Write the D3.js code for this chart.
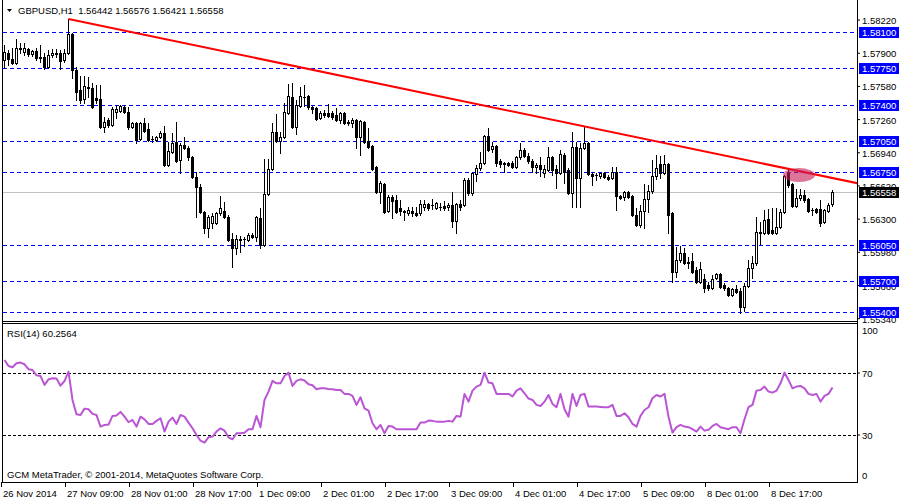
<!DOCTYPE html>
<html><head><meta charset="utf-8">
<script src="https://cdn.jsdelivr.net/npm/d3@7"></script>
<style>
body{margin:0;background:#fff}
svg{display:block}
text{font-family:"Liberation Sans",Arial,sans-serif;font-size:9.5px;fill:#000}
</style>
</head><body>
<svg id="c" width="900" height="500"></svg>
<script>
// ---------- DATA ----------
const headerText = "GBPUSD,H1  1.56442 1.56576 1.56421 1.56558";
const rsiTitle = "RSI(14) 60.2564";
const footerText = "GCM MetaTrader, \u00A9 2001-2014, MetaQuotes Software Corp.";

const open = [
1.5783,1.5790,1.5784,1.5780,1.5795,1.5791,1.5794,1.5789,1.5792,1.5786,1.5786,1.5776,1.5788,1.5790,1.5790,1.5783,
1.5790,1.5808,1.5773,1.5754,1.5745,1.5756,1.5756,1.5746,1.5745,1.5718,1.5725,1.5720,1.5733,1.5734,1.5738,1.5733,
1.5718,1.5722,1.5707,1.5722,1.5716,1.5707,1.5706,1.5709,1.5713,1.5682,1.5694,1.5704,1.5687,1.5701,1.5698,1.5689,
1.5670,1.5661,1.5636,1.5621,1.5626,1.5626,1.5635,1.5637,1.5632,1.5610,1.5602,1.5610,1.5610,1.5609,1.5614,1.5612,
1.5631,1.5605,1.5654,1.5678,1.5714,1.5705,1.5709,1.5732,1.5747,1.5718,1.5739,1.5747,1.5748,1.5738,1.5737,1.5727,
1.5732,1.5732,1.5732,1.5730,1.5725,1.5732,1.5723,1.5722,1.5725,1.5709,1.5723,1.5705,1.5700,1.5680,1.5656,1.5663,
1.5637,1.5651,1.5648,1.5640,1.5637,1.5635,1.5637,1.5635,1.5635,1.5641,1.5644,1.5643,1.5640,1.5641,1.5642,1.5641,
1.5643,1.5628,1.5644,1.5643,1.5667,1.5655,1.5673,1.5679,1.5684,1.5710,1.5697,1.5700,1.5686,1.5684,1.5684,1.5684,
1.5680,1.5689,1.5696,1.5690,1.5686,1.5680,1.5682,1.5674,1.5677,1.5689,1.5678,1.5674,1.5691,1.5677,1.5655,1.5699,
1.5669,1.5698,1.5703,1.5673,1.5672,1.5671,1.5674,1.5670,1.5669,1.5675,1.5652,1.5651,1.5656,1.5652,1.5634,1.5624,
1.5637,1.5649,1.5657,1.5671,1.5683,1.5674,1.5683,1.5635,1.5579,1.5590,1.5597,1.5588,1.5589,1.5580,1.5569,1.5572,
1.5566,1.5563,1.5573,1.5577,1.5566,1.5563,1.5556,1.5562,1.5560,1.5545,1.5565,1.5582,1.5587,1.5617,1.5616,1.5630,
1.5619,1.5616,1.5622,1.5636,1.5674,1.5663,1.5642,1.5650,1.5653,1.5649,1.5638,1.5639,1.5639,1.5627,1.5637,1.56442];

const high = [
1.5797,1.5793,1.5795,1.5803,1.5799,1.5799,1.5795,1.5793,1.5795,1.5797,1.5790,1.5793,1.5794,1.5794,1.5793,1.5794,
1.58225,1.5809,1.5776,1.5768,1.5768,1.5767,1.5761,1.5759,1.5759,1.5728,1.5727,1.5738,1.5740,1.5740,1.5740,1.5738,
1.5723,1.5723,1.5723,1.5727,1.5722,1.5710,1.5710,1.5715,1.5719,1.5704,1.5713,1.5723,1.5703,1.5709,1.5700,1.5690,
1.5675,1.5663,1.5637,1.5634,1.5635,1.5636,1.5652,1.5646,1.5634,1.5616,1.5614,1.5613,1.5612,1.5616,1.5616,1.5633,
1.5640,1.5688,1.5688,1.5722,1.5731,1.5714,1.5742,1.5760,1.5761,1.5744,1.5757,1.5759,1.5749,1.5739,1.5738,1.5734,
1.5735,1.5741,1.5734,1.5737,1.5733,1.5733,1.5725,1.5727,1.5726,1.5725,1.5724,1.5717,1.5701,1.5681,1.5666,1.5664,
1.5653,1.5653,1.5653,1.5648,1.5638,1.5641,1.5641,1.5641,1.5648,1.5648,1.5645,1.5649,1.5646,1.5645,1.5647,1.5645,
1.5656,1.5645,1.5648,1.5669,1.5669,1.5675,1.5682,1.5694,1.5711,1.5717,1.5704,1.5701,1.5688,1.5685,1.5685,1.5686,
1.5690,1.5703,1.5698,1.5693,1.5688,1.5684,1.5689,1.5682,1.5699,1.5690,1.5682,1.5696,1.5693,1.5679,1.5714,1.5704,
1.5703,1.5719,1.5704,1.5675,1.5674,1.5675,1.5675,1.5672,1.5680,1.5680,1.5653,1.5657,1.5657,1.5653,1.5640,1.5643,
1.5663,1.5662,1.5687,1.5691,1.5690,1.5691,1.5684,1.5636,1.5603,1.5604,1.5602,1.5593,1.5597,1.5583,1.5588,1.5577,
1.5569,1.5576,1.5578,1.5578,1.5568,1.5564,1.5563,1.5566,1.5563,1.5568,1.5590,1.5594,1.5632,1.5627,1.5638,1.5639,
1.5640,1.5640,1.5639,1.5672,1.5678,1.5664,1.5659,1.5659,1.5658,1.5650,1.5640,1.5640,1.5648,1.5639,1.5645,1.56576];

const low = [
1.5775,1.5778,1.5779,1.5779,1.5790,1.5788,1.5787,1.5787,1.5783,1.5781,1.5774,1.5775,1.5786,1.5786,1.5774,1.5781,
1.5789,1.5766,1.5744,1.5742,1.5742,1.5747,1.5737,1.5742,1.5717,1.5714,1.5718,1.5719,1.5727,1.5733,1.5732,1.5716,
1.5717,1.5703,1.5706,1.5714,1.5705,1.5704,1.5705,1.5708,1.5681,1.5681,1.5693,1.5685,1.5674,1.5697,1.5687,1.5669,
1.5632,1.5635,1.5616,1.5612,1.5621,1.5625,1.5634,1.5631,1.5608,1.5583,1.5596,1.5598,1.5604,1.5608,1.5611,1.5608,
1.5602,1.5604,1.5653,1.5677,1.5704,1.5693,1.5708,1.5731,1.5717,1.5712,1.5738,1.5739,1.5736,1.5732,1.5725,1.5726,
1.5728,1.5728,1.5726,1.5724,1.5722,1.5721,1.5720,1.5718,1.5698,1.5691,1.5703,1.5698,1.5677,1.5655,1.5645,1.5635,
1.5636,1.5631,1.5635,1.5634,1.5629,1.5634,1.5633,1.5633,1.5634,1.5638,1.5638,1.5639,1.5639,1.5638,1.5638,1.5638,
1.5622,1.5616,1.5638,1.5642,1.5653,1.5653,1.5666,1.5677,1.5683,1.5695,1.5694,1.5681,1.5680,1.5675,1.5681,1.5679,
1.5679,1.5688,1.5689,1.5684,1.5675,1.5674,1.5671,1.5670,1.5676,1.5672,1.5660,1.5673,1.5664,1.5654,1.5641,1.5641,
1.5641,1.5697,1.5672,1.5662,1.5667,1.5669,1.5669,1.5667,1.5668,1.5638,1.5649,1.5648,1.5650,1.5633,1.5623,1.5622,
1.5621,1.5636,1.5655,1.5668,1.5669,1.5673,1.5616,1.5569,1.5574,1.5588,1.5586,1.5582,1.5578,1.5568,1.5568,1.5559,
1.5561,1.5562,1.5572,1.5563,1.5561,1.5555,1.5555,1.5558,1.5539,1.5541,1.5564,1.5573,1.5585,1.5606,1.5615,1.5615,
1.5615,1.5615,1.5621,1.5635,1.5661,1.5641,1.5641,1.5648,1.5646,1.5636,1.5634,1.5635,1.5623,1.5626,1.5636,1.56421];

const close = [
1.5791,1.5784,1.5780,1.5795,1.5794,1.5795,1.5789,1.5792,1.5785,1.5785,1.5776,1.5788,1.5790,1.5789,1.5782,1.5790,
1.5808,1.5773,1.5752,1.5744,1.5758,1.5757,1.5738,1.5744,1.5718,1.5723,1.5720,1.5736,1.5736,1.5739,1.5733,1.5718,
1.5722,1.5706,1.5722,1.5715,1.5706,1.5707,1.5709,1.5713,1.5682,1.5695,1.5703,1.5686,1.5701,1.5698,1.5689,1.5670,
1.5661,1.5636,1.5621,1.5632,1.5633,1.5635,1.5640,1.5632,1.5609,1.5602,1.5610,1.5609,1.5610,1.5614,1.5612,1.5632,
1.5605,1.5654,1.5678,1.5714,1.5705,1.5709,1.5733,1.5748,1.5718,1.5740,1.5748,1.5747,1.5738,1.5736,1.5726,1.5732,
1.5730,1.5729,1.5728,1.5725,1.5732,1.5722,1.5722,1.5725,1.5709,1.5724,1.5704,1.5699,1.5678,1.5656,1.5664,1.5636,
1.5651,1.5647,1.5636,1.5637,1.5636,1.5638,1.5635,1.5634,1.5644,1.5644,1.5640,1.5643,1.5645,1.5641,1.5640,1.5643,
1.5628,1.5644,1.5641,1.5667,1.5655,1.5674,1.5679,1.5684,1.5710,1.5696,1.5700,1.5684,1.5683,1.5683,1.5682,1.5680,
1.5689,1.5696,1.5690,1.5686,1.5680,1.5682,1.5678,1.5678,1.5689,1.5677,1.5674,1.5692,1.5675,1.5655,1.5699,1.5669,
1.5698,1.5703,1.5673,1.5671,1.5672,1.5674,1.5670,1.5668,1.5675,1.5652,1.5650,1.5656,1.5651,1.5634,1.5624,1.5637,
1.5649,1.5657,1.5671,1.5679,1.5674,1.5683,1.5634,1.5579,1.5590,1.5597,1.5587,1.5587,1.5579,1.5569,1.5581,1.5563,
1.5563,1.5572,1.5577,1.5564,1.5563,1.5556,1.5562,1.5559,1.5545,1.5565,1.5582,1.5587,1.5617,1.5616,1.5629,1.5616,
1.5616,1.5622,1.5636,1.5671,1.5662,1.5642,1.5650,1.5653,1.5648,1.5637,1.5638,1.5636,1.5626,1.5638,1.5643,1.56558];

const rsi = [
78.1,74.2,73.4,76.0,76.4,75.3,72.1,71.6,68.2,67.8,62.0,65.6,66.3,66.1,61.5,64.5,
70.6,52.3,43.1,42.6,46.7,46.3,43.3,42.6,35.1,36.2,36.4,42.0,42.2,44.6,41.5,37.9,
39.4,35.1,41.5,39.8,36.8,36.8,38.8,40.5,31.9,38.3,40.9,36.8,42.6,41.5,37.7,34.0,
29.7,26.0,24.8,28.2,28.7,31.9,34.0,32.5,28.2,26.9,30.8,30.8,31.2,33.4,33.4,42.0,
34.7,52.3,57.7,64.6,63.0,63.0,67.8,69.9,61.3,64.6,65.6,64.8,62.4,61.8,59.2,59.8,
59.8,59.4,59.2,58.7,58.7,56.2,56.2,54.9,49.1,54.0,46.9,45.4,37.3,33.4,36.2,30.8,
35.5,35.1,33.4,33.4,33.4,33.4,33.4,33.4,37.7,37.7,39.0,38.8,38.3,38.3,38.3,38.8,
38.3,42.0,41.5,56.2,51.2,58.3,60.9,62.0,69.9,63.5,63.0,56.2,56.2,56.2,56.2,54.5,
58.3,59.8,56.6,53.2,52.3,49.1,48.4,51.2,55.5,49.7,47.6,56.2,46.3,41.5,56.2,48.4,
55.5,56.2,48.0,48.0,48.0,47.8,47.6,47.6,49.1,42.0,42.0,43.7,41.1,36.8,35.1,42.0,
45.8,47.6,53.4,55.5,54.5,56.2,41.5,31.2,34.7,36.2,35.1,34.7,33.4,31.9,35.1,32.5,
33.0,35.5,36.8,34.7,34.0,33.4,34.7,34.7,30.8,39.8,47.6,49.1,58.3,58.7,60.9,57.7,
57.0,58.3,63.0,69.9,65.2,59.8,60.9,61.3,59.8,56.2,55.5,56.2,51.2,54.9,56.2,60.3];

const priceTicks = [1.58220,1.57900,1.57580,1.57260,1.56940,1.56620,1.56300,1.55980,1.55660,1.55340];
const levels = [1.58100,1.57750,1.57400,1.57050,1.56750,1.56050,1.55700,1.55400];
const currentPrice = 1.56558;
const rsiTicks = [100,70,30,0];
const rsiLevels = [70,30];
const timeLabels = ["26 Nov 2014","27 Nov 09:00","28 Nov 01:00","28 Nov 17:00","1 Dec 09:00","2 Dec 01:00","2 Dec 17:00","3 Dec 09:00","4 Dec 01:00","4 Dec 17:00","5 Dec 09:00","8 Dec 01:00","8 Dec 17:00"];
const timeLabelBars = [0,16,32,48,64,80,96,112,128,144,160,176,192];
const trendAnchors = [[16,1.58225],[145,1.5719]];
const highlight = {bar:198.75, price:1.5672};

// ---------- LAYOUT ----------
const svg = d3.select("#c");
const PL = 2.5, PR = 857.5;
const MAIN_BOT = 321, RSI_TOP = 323, RSI_BOT = 482;
const n = open.length;
const x = d3.scaleLinear().domain([0, n-1]).range([4, 4 + 4*(n-1)]);
const y = d3.scaleLinear().domain([1.55313, 1.58370]).range([321, 4]);
const yr = d3.scaleLinear().domain([0,100]).range([481, 326]);

const defs = svg.append("defs");
defs.append("clipPath").attr("id","mainClip").append("rect").attr("x",3).attr("y",0).attr("width",854).attr("height",MAIN_BOT);
defs.append("clipPath").attr("id","rsiClip").append("rect").attr("x",3).attr("y",RSI_TOP+1).attr("width",854).attr("height",RSI_BOT-RSI_TOP-1);

const main = svg.append("g").attr("clip-path","url(#mainClip)");

// current price line
main.append("line").attr("x1",3).attr("x2",857).attr("y1",Math.round(y(currentPrice))+0.5).attr("y2",Math.round(y(currentPrice))+0.5)
  .attr("stroke","#c0c0c0").attr("stroke-width",1);

// level lines
main.selectAll("line.lvl").data(levels).join("line").attr("class","lvl")
  .attr("x1",3).attr("x2",857)
  .attr("y1",d=>Math.round(y(d))+0.5).attr("y2",d=>Math.round(y(d))+0.5)
  .attr("stroke","#0000ff").attr("stroke-width",1).attr("stroke-dasharray","4,3");

// candles
const bars = d3.range(n).map(i=>({i,o:open[i],h:high[i],l:low[i],c:close[i]}));
const cg = main.selectAll("g.cd").data(bars).join("g").attr("class","cd");
cg.append("line")
  .attr("x1",d=>x(d.i)+0.5).attr("x2",d=>x(d.i)+0.5)
  .attr("y1",d=>Math.round(y(d.h))).attr("y2",d=>Math.round(y(d.l))+1)
  .attr("stroke","#000").attr("stroke-width",1);
cg.each(function(d){
  const s = d3.select(this);
  const cx = x(d.i)+0.5;
  const yt = Math.round(y(Math.max(d.o,d.c))), yb = Math.round(y(Math.min(d.o,d.c)));
  if (yb - yt < 1) {
    s.append("line").attr("x1",cx-1.5).attr("x2",cx+1.5).attr("y1",yt+0.5).attr("y2",yt+0.5).attr("stroke","#000");
  } else if (d.c >= d.o) {
    s.append("rect").attr("x",cx-1).attr("y",yt+0.5).attr("width",2).attr("height",yb-yt).attr("fill","#fff").attr("stroke","#000").attr("stroke-width",1);
  } else {
    s.append("rect").attr("x",cx-1.5).attr("y",yt).attr("width",3).attr("height",yb-yt+1).attr("fill","#000");
  }
});

// trend line
const [a0,a1] = trendAnchors;
const slope = (a1[1]-a0[1])/(a1[0]-a0[0]);
const endBar = x.invert(PR);
main.append("line")
  .attr("x1",x(a0[0])+0.5).attr("y1",y(a0[1]))
  .attr("x2",x(endBar)).attr("y2",y(a0[1]+slope*(endBar-a0[0])))
  .attr("stroke","#ff0000").attr("stroke-width",2);

// highlight ellipse
main.append("ellipse").attr("cx",x(highlight.bar)).attr("cy",y(highlight.price))
  .attr("rx",16).attr("ry",7).attr("fill","rgb(200,30,90)").attr("fill-opacity",0.62);

// ---------- RSI pane ----------
const rg = svg.append("g").attr("clip-path","url(#rsiClip)");
rg.selectAll("line.rl").data(rsiLevels).join("line").attr("class","rl")
  .attr("x1",3).attr("x2",857)
  .attr("y1",d=>Math.round(yr(d))+0.5).attr("y2",d=>Math.round(yr(d))+0.5)
  .attr("stroke","#000").attr("stroke-width",1).attr("stroke-dasharray","3,2");
rg.append("path").datum(rsi)
  .attr("d", d3.line().x((d,i)=>x(i)+0.5).y(d=>yr(d)))
  .attr("fill","none").attr("stroke","#ba55d3").attr("stroke-width",2).attr("stroke-linejoin","round");

// ---------- frame ----------
const fr = svg.append("g").attr("stroke","#000").attr("stroke-width",1).attr("shape-rendering","crispEdges");
fr.append("line").attr("x1",PL).attr("x2",PL).attr("y1",0).attr("y2",RSI_BOT+0.5);
fr.append("line").attr("x1",PR).attr("x2",PR).attr("y1",0).attr("y2",RSI_BOT+0.5);
fr.append("line").attr("x1",PL).attr("x2",PR).attr("y1",MAIN_BOT+0.5).attr("y2",MAIN_BOT+0.5);
fr.append("line").attr("x1",PL).attr("x2",PR).attr("y1",RSI_TOP+0.5).attr("y2",RSI_TOP+0.5);
fr.append("line").attr("x1",PL).attr("x2",PR).attr("y1",RSI_BOT+0.5).attr("y2",RSI_BOT+0.5);

// ---------- price axis ----------
const pa = svg.append("g").attr("transform",`translate(${PR-0.5},0)`)
  .call(d3.axisRight(y).tickValues(priceTicks).tickSize(3).tickPadding(2).tickFormat(d3.format(".5f")));
pa.select(".domain").remove();
pa.selectAll("text").attr("dy","0.42em").style("font-family","'Liberation Sans',Arial,sans-serif").style("font-size","9.5px");

// level boxes
const lb = svg.append("g");
lb.selectAll("rect").data(levels).join("rect")
  .attr("x",859).attr("y",d=>Math.round(y(d))-5).attr("width",40).attr("height",11).attr("fill","#0000ff");
lb.selectAll("text").data(levels).join("text")
  .attr("x",862).attr("y",d=>Math.round(y(d))+4).style("fill","#fff").text(d=>d3.format(".5f")(d));
// current price box
lb.append("rect").attr("x",859).attr("y",Math.round(y(currentPrice))-5).attr("width",40).attr("height",11).attr("fill","#000");
lb.append("text").attr("x",862).attr("y",Math.round(y(currentPrice))+4).style("fill","#fff").text(d3.format(".5f")(currentPrice));

// ---------- RSI axis ----------
const ra = svg.append("g").attr("transform",`translate(${PR-0.5},0)`)
  .call(d3.axisRight(yr).tickValues(rsiTicks).tickSize(3).tickPadding(2).tickFormat(d3.format("d")));
ra.select(".domain").remove();
ra.selectAll(".tick").filter(d=>d===100||d===0).select("line").remove();
ra.selectAll("text").attr("dy",d=> d===100 ? "0.8em" : d===0 ? "-0.25em" : "0.42em")
  .style("font-family","'Liberation Sans',Arial,sans-serif").style("font-size","9.5px");

// ---------- time axis ----------
const ta = svg.append("g").attr("transform",`translate(-3,${RSI_BOT})`)
  .call(d3.axisBottom(x).tickValues(timeLabelBars).tickSize(5).tickPadding(3).tickFormat((d,i)=>timeLabels[i]));
ta.select(".domain").remove();
ta.selectAll("text").attr("text-anchor","start").attr("x",1.5)
  .style("font-family","'Liberation Sans',Arial,sans-serif").style("font-size","9.5px");

// ---------- texts ----------
svg.append("path").attr("d","M7,9 L12,9 L9.5,12 Z").attr("fill","#000");
svg.append("text").attr("x",18).attr("y",14).style("white-space","pre").text(headerText);
svg.append("text").attr("x",7).attr("y",337).text(rsiTitle);
svg.append("text").attr("x",7).attr("y",478).text(footerText);
</script>
</body></html>
